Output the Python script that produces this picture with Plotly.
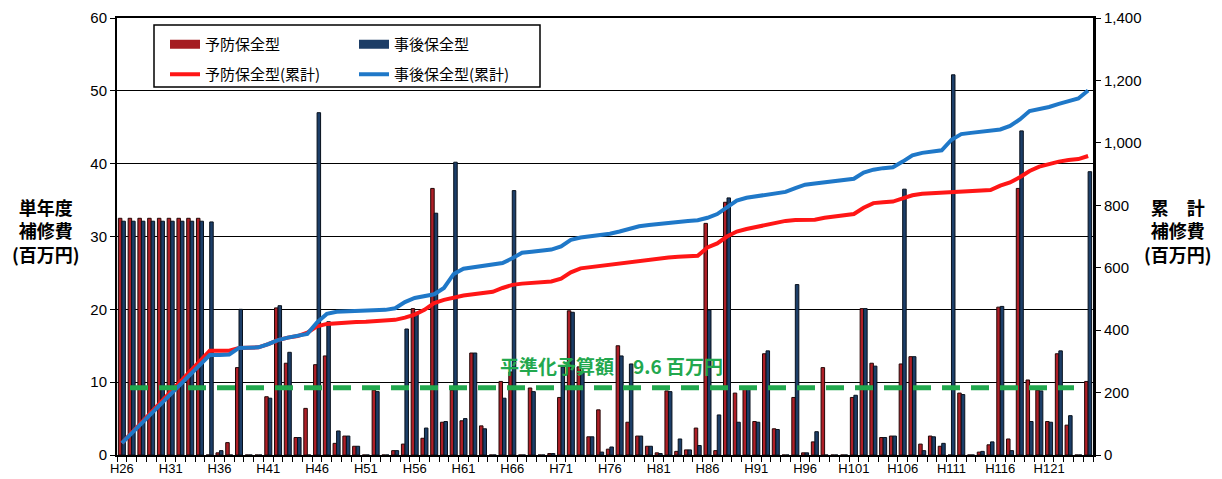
import plotly.graph_objects as go

# ---------------- data ----------------
years = [f"H{n}" for n in range(26, 126)]
tick_labels = ["H26", "H31", "H36", "H41", "H46", "H51", "H56", "H61", "H66", "H71",
               "H76", "H81", "H86", "H91", "H96", "H101", "H106", "H111", "H116", "H121"]

# single-year repair cost (百万円)
preventive = [32.5, 32.5, 32.5, 32.5, 32.5, 32.5, 32.5, 32.5, 32.5, 0,
              0.3, 1.7, 12.0, 0, 0, 8.0, 20.2, 12.6, 2.4, 6.4,
              12.4, 13.6, 1.6, 2.6, 1.2, 0, 8.9, 0, 0.6, 1.5,
              20.1, 2.3, 36.6, 4.5, 8.9, 4.7, 14.0, 4.0, 0, 10.1,
              11.4, 0, 9.2, 0, 0.2, 7.9, 19.8, 12.1, 2.5, 6.2,
              0.8, 15.0, 4.5, 2.6, 1.2, 0.3, 8.8, 0.5, 0.7, 3.7,
              31.8, 0.6, 34.7, 8.5, 9.4, 4.6, 13.9, 3.6, 0, 7.9,
              0.3, 1.8, 12.0, 0, 0, 7.9, 20.1, 12.6, 2.4, 2.6,
              12.5, 13.5, 1.5, 2.6, 1.2, 0, 8.5, 0, 0.4, 1.4,
              20.3, 2.2, 36.6, 10.3, 8.9, 4.6, 13.9, 4.1, 0, 10.1]

corrective = [32.1, 32.1, 32.1, 32.1, 32.1, 32.1, 32.1, 32.1, 32.1, 32.0,
              0.6, 0, 20.0, 0, 0, 7.8, 20.5, 14.1, 2.4, 0,
              47.0, 18.3, 3.3, 2.6, 1.2, 0, 8.7, 0, 0.6, 17.3,
              19.6, 3.7, 33.2, 4.6, 40.2, 5.0, 14.0, 3.6, 0, 7.8,
              36.3, 0, 8.7, 0, 0.2, 12.1, 19.6, 11.5, 2.5, 0.4,
              1.1, 13.6, 12.5, 2.6, 1.2, 0.2, 8.7, 2.2, 0.7, 1.3,
              19.9, 5.5, 35.3, 4.5, 9.1, 4.5, 14.3, 3.5, 0, 23.4,
              0.3, 3.2, 0, 0, 0, 8.2, 20.1, 12.2, 2.4, 2.6,
              36.5, 13.5, 0.6, 2.5, 1.6, 52.2, 8.3, 0, 0.5, 1.8,
              20.4, 0.6, 44.5, 4.6, 8.8, 4.5, 14.3, 5.4, 0, 38.9]

# cumulative repair cost (百万円)
preventive_cum = [38, 71, 104, 137, 170, 203, 236, 269, 301, 334,
                  334, 334, 343, 343, 345, 355, 368, 376, 381, 392,
                  412, 420, 423, 425, 426, 427, 429, 431, 433, 440,
                  450, 465, 487, 497, 505, 511, 515, 519, 523, 535,
                  545, 549, 552, 554, 556, 565, 585, 598, 602, 606,
                  610, 614, 620, 624, 628, 631, 633, 635, 636, 638,
                  665, 678, 700, 716, 724, 731, 737, 745, 750, 753,
                  754, 754, 760, 764, 767, 772, 792, 807, 810, 812,
                  822, 832, 837, 839, 841, 843, 844, 844, 846, 849,
                  863, 873, 890, 910, 924, 933, 940, 945, 948, 958]

corrective_cum = [38, 69, 101, 132, 163, 195, 226, 257, 289, 320,
                  320, 322, 343, 343, 345, 355, 368, 376, 381, 388,
                  425, 452, 459, 460, 461, 462, 463, 465, 470, 490,
                  503, 510, 515, 535, 580, 597, 602, 606, 609, 615,
                  630, 648, 651, 655, 658, 668, 689, 697, 700, 703,
                  709, 716, 726, 733, 737, 741, 744, 747, 750, 752,
                  760, 772, 795, 815, 824, 829, 833, 837, 843, 855,
                  866, 870, 874, 876, 879, 885, 905, 914, 919, 922,
                  940, 960, 968, 973, 976, 1010, 1028, 1032, 1036, 1039,
                  1043, 1054, 1075, 1102, 1108, 1115, 1125, 1135, 1142, 1168]

budget_level = 9.25
budget_label = "平準化予算額　9.6 百万円"

# ---------------- styles ----------------
RED_FILL, RED_EDGE = "#AE1F27", "#240707"
BLUE_FILL, BLUE_EDGE = "#1C3E68", "#08111D"
RED_LINE, BLUE_LINE = "#FF1616", "#1F78C8"
GREEN = "#22A84E"
JP = "Noto Sans CJK JP, sans-serif"
LAT = "Liberation Sans, Arial, sans-serif"

# page has an 8px body margin: the figure starts at (8, 8)
OFF = 8
W, H = 1222 - OFF, 479 - OFF
PL, PT, PR, PB = 117, 18, 1093, 455          # plot-area edges in page pixels
L, T = PL - OFF, PT - OFF
R, B = W + OFF - PR, H + OFF - PB
PW, PH = PR - PL, PB - PT


def px(x):
    return (x - PL) / PW


def py(y):
    return (PB - y) / PH


fig = go.Figure()
fig.add_trace(go.Bar(x=years, y=preventive, name="予防保全型", showlegend=False,
                     marker=dict(color=RED_FILL, line=dict(color=RED_EDGE, width=1))))
fig.add_trace(go.Bar(x=years, y=corrective, name="事後保全型", showlegend=False,
                     marker=dict(color=BLUE_FILL, line=dict(color=BLUE_EDGE, width=1))))
fig.add_trace(go.Scatter(x=years, y=preventive_cum, yaxis="y2", mode="lines",
                         name="予防保全型(累計)", legend="legend2",
                         line=dict(color=RED_LINE, width=4)))
fig.add_trace(go.Scatter(x=years, y=corrective_cum, yaxis="y2", mode="lines",
                         name="事後保全型(累計)", legend="legend2",
                         line=dict(color=BLUE_LINE, width=4)))
# legend swatches for the bar series
fig.add_trace(go.Scatter(x=[None], y=[None], mode="lines", name="予防保全型",
                         legend="legend", line=dict(color="#A51C22", width=9)))
fig.add_trace(go.Scatter(x=[None], y=[None], mode="lines", name="事後保全型",
                         legend="legend", line=dict(color="#1C3D66", width=9)))

tickvals = years
ticktext = [y if y in tick_labels else "" for y in years]

fig.update_layout(
    width=W, height=H,
    margin=dict(l=L, r=R, t=T, b=B),
    paper_bgcolor="white", plot_bgcolor="white",
    barmode="group", bargap=0.28, bargroupgap=0,
    xaxis=dict(type="category", tickvals=tickvals, ticktext=ticktext, automargin=False,
               tickson="boundaries", ticks="outside", ticklen=5, tickcolor="black",
               showline=True, linecolor="black", linewidth=2, mirror=True,
               showgrid=False, tickangle=0,
               tickfont=dict(family=LAT, size=13, color="black")),
    yaxis=dict(range=[0, 60], dtick=10, showgrid=True, gridcolor="black", gridwidth=1.3,
               showline=True, linecolor="black", linewidth=2, ticks="outside", ticklen=5,
               tickcolor="black", zeroline=False, automargin=False,
               tickfont=dict(family=LAT, size=15, color="black")),
    yaxis2=dict(range=[0, 1400], dtick=200, overlaying="y", side="right",
                showgrid=False, showline=True, linecolor="black", linewidth=3,
                ticks="outside", ticklen=5, tickcolor="black", tickformat=",",
                zeroline=False, automargin=False,
                tickfont=dict(family=LAT, size=15, color="black")),
    legend=dict(orientation="h", x=px(165), y=py(28), xanchor="left", yanchor="top",
                entrywidth=144, entrywidthmode="pixels", bgcolor="rgba(0,0,0,0)",
                font=dict(family=JP, size=15, color="black")),
    legend2=dict(orientation="h", x=px(165), y=py(58), xanchor="left", yanchor="top",
                 entrywidth=144, entrywidthmode="pixels", bgcolor="rgba(0,0,0,0)",
                 font=dict(family=JP, size=15, color="black")),
    showlegend=True,
)

# legend frame
fig.add_shape(type="rect", xref="paper", yref="paper",
              x0=px(154), x1=px(540), y0=py(87), y1=py(25),
              line=dict(color="black", width=1.5), fillcolor="white", layer="below")

# levelled budget line
fig.add_shape(type="line", xref="paper", yref="y", x0=px(130), x1=px(1074),
              y0=budget_level, y1=budget_level,
              line=dict(color=GREEN, width=5, dash="18px,11px"))

fig.add_annotation(xref="paper", yref="paper", x=px(611), y=py(365),
                   xanchor="center", yanchor="middle",
                   text=f"<b>{budget_label}</b>", showarrow=False,
                   font=dict(family=JP, size=19, color=GREEN))

# axis titles
fig.add_annotation(xref="paper", yref="paper", x=px(46), y=py(230),
                   xanchor="center", yanchor="middle",
                   text="<b>単年度<br>補修費<br>(百万円)</b>", showarrow=False,
                   font=dict(family=JP, size=18, color="black"), align="center")
fig.add_annotation(xref="paper", yref="paper", x=px(1178), y=py(230),
                   xanchor="center", yanchor="middle",
                   text="<b>累　計<br>補修費<br>(百万円)</b>", showarrow=False,
                   font=dict(family=JP, size=18, color="black"), align="center")

fig.write_html("out.html")
